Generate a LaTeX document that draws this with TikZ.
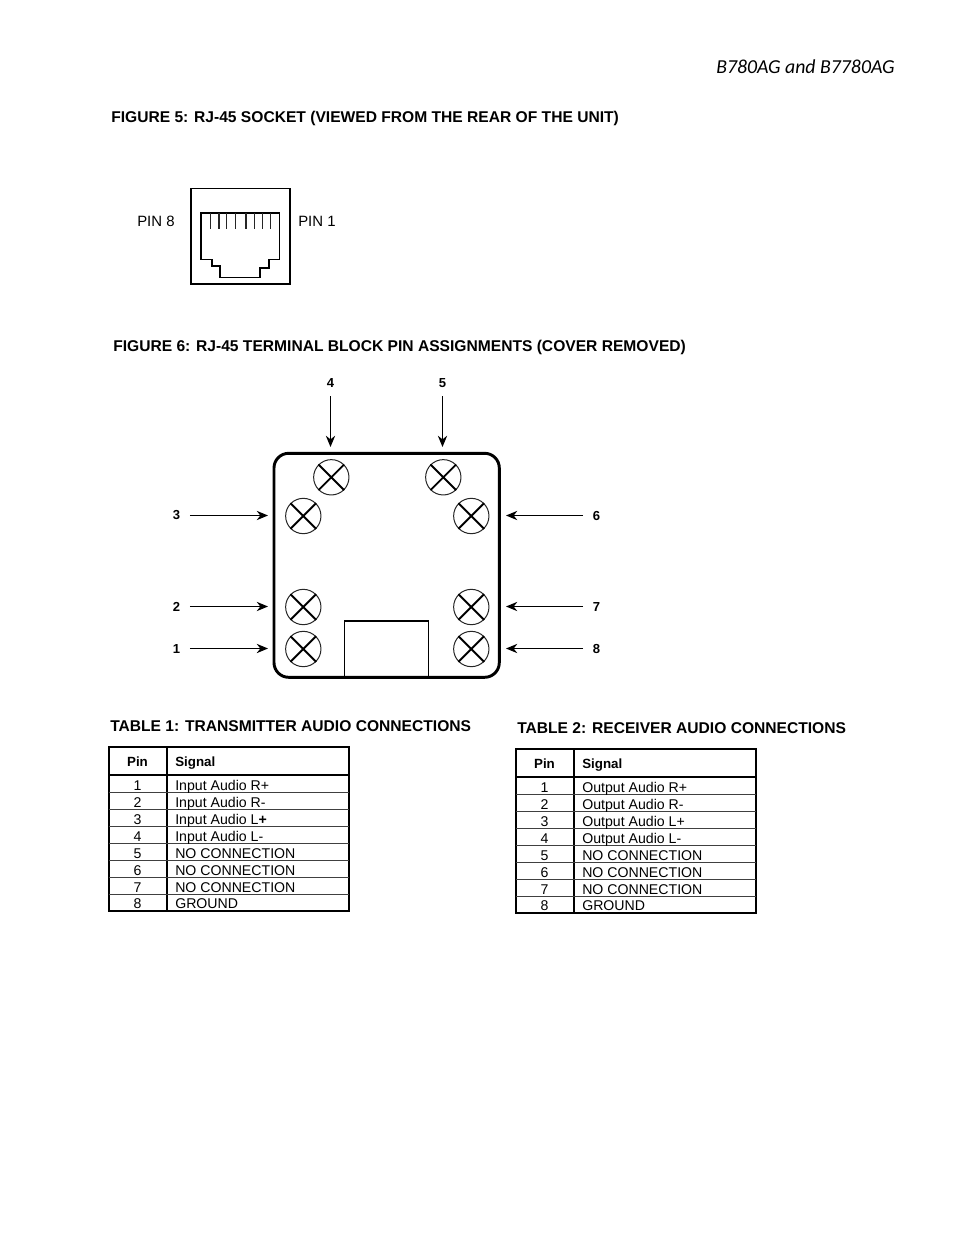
\documentclass[tikz,border=0pt]{standalone}
\usepackage{fontspec}
\setmainfont{Liberation Sans}
\newfontfamily\headfont{Carlito}
\usetikzlibrary{arrows.meta}
\newcommand{\fs}[1]{\fontsize{#1}{#1}\selectfont}
\colorlet{rowline}{black!75}
\tikzset{
  x=0.75pt,y=-0.75pt,
  title/.style={anchor=base west,inner sep=0,font=\fs{11.7}\bfseries},
  plain/.style={anchor=base west,inner sep=0,font=\fs{10.6}},
  pinno/.style={anchor=base,inner sep=0,font=\fs{10.6}},
  headcell/.style={anchor=base west,inner sep=0,font=\fs{10}\bfseries},
  headcentre/.style={anchor=base,inner sep=0,font=\fs{10}\bfseries},
  arrownum/.style={inner sep=0,minimum size=19.5pt,font=\fs{9.8}\bfseries},
  pinarrow/.style={draw=black,line width=0.8pt,-{Stealth[length=8.5pt,width=7pt]}},
  terminal/.style={circle,draw=black!85,line width=0.75pt,minimum size=26.5pt,inner sep=0},
  thick line/.style={draw=black,line width=1.5pt},
  thin line/.style={draw=rowline,line width=0.55pt},
  mid line/.style={draw=black,line width=1.2pt},
  cross line/.style={draw=black,line width=1.4pt},
}
\newcommand{\terminalat}[3]{%
  \node[terminal] (#1) at (#2,#3) {};
  \draw[cross line] (#1.45) -- (#1.225) (#1.135) -- (#1.315);
}
% \sigtable{x left}{y top}{name}{signal-text list}
\newcommand{\sigtable}[4]{%
  \begin{scope}[shift={(#1,#2)}]
    \draw[thick line] (0,0) rectangle (240,164);
    \draw[thick line] (58,0) -- (58,164);
    \draw[thick line] (0,28) -- (240,28);
    \foreach \yy in {45.7,62.7,79.7,96.7,113.7,130.7,147.3}
      \draw[thin line] (0,\yy) -- (240,\yy);
    \node[headcentre] (pinhead#3) at (29,19) {Pin};
    \node[headcell] (sighead#3) at (66.5,19) {Signal};
    \foreach \nn/\yy/\tt in {#4}{
      \node[pinno] (pin#3n\nn) at (29,\yy) {\nn};
      \node[plain] (sig#3n\nn) at (66.5,\yy) {\tt};
    }
  \end{scope}
}
\begin{document}
\begin{tikzpicture}
\useasboundingbox (0,0) rectangle (954,1235);
\fill[white] (0,0) rectangle (954,1235);

\node[anchor=base west,inner sep=0,font=\headfont\fs{14.85}\itshape] (head) at (716,73) {B780AG and B7780AG};

\node[title] (fig5) at (111,122) {FIGURE 5: RJ-45 SOCKET (VIEWED FROM THE REAR OF THE UNIT)};
\node[title] (fig6) at (113,351) {FIGURE 6: RJ-45 TERMINAL BLOCK PIN ASSIGNMENTS (COVER REMOVED)};
\node[title] (tab1) at (110,731) {TABLE 1: TRANSMITTER AUDIO CONNECTIONS};
\node[title] (tab2) at (517,733) {TABLE 2: RECEIVER AUDIO CONNECTIONS};

% socket
\draw[mid line] (191,188.5) rectangle (290,284);
\draw[mid line] (201,212.7) -- (201,259.3) -- (211.7,259.3) -- (211.7,265.7) -- (220,265.7) -- (220,277.3) -- (260,277.3) -- (260,267.7) -- (269,267.7) -- (269,259.3) -- (279.3,259.3) -- (279.3,212.7) -- cycle;
\foreach \xx in {210.7,219,226.7,235.3,246,254.3,262.3,270.7}
  \draw[draw=black!85,line width=0.8pt] (\xx,212.7) -- (\xx,229.3);
\node[plain,font=\fs{11.2}] (pin8) at (137,226) {PIN 8};
\node[plain,font=\fs{11.2}] (pin1) at (298,226) {PIN 1};

% terminal block
\draw[draw=black,line width=2.2pt,rounded corners=11pt] (274,453.3) rectangle (499.3,677.3);
\draw[mid line] (344.3,677.3) -- (344.3,621) -- (428.3,621) -- (428.3,677.3);
\terminalat{t4}{331.3}{477.3}
\terminalat{t5}{443.3}{477.3}
\terminalat{t3}{303.3}{516}
\terminalat{t6}{471.3}{516}
\terminalat{t2}{303.3}{607}
\terminalat{t7}{471.3}{607}
\terminalat{t1}{303.3}{649}
\terminalat{t8}{471.3}{649}

\node[arrownum] (l4) at (330.5,383) {4};
\node[arrownum] (l5) at (442.5,383) {5};
\node[arrownum] (l3) at (176.5,515.5) {3};
\node[arrownum] (l2) at (176.5,606.5) {2};
\node[arrownum] (l1) at (176.5,648.5) {1};
\node[arrownum] (l6) at (596.5,515.5) {6};
\node[arrownum] (l7) at (596.5,606.5) {7};
\node[arrownum] (l8) at (596.5,648.5) {8};
\coordinate (e4) at (330.5,447);
\coordinate (e5) at (442.5,447);
\coordinate (e3) at (268,515.5);
\coordinate (e2) at (268,606.5);
\coordinate (e1) at (268,648.5);
\coordinate (e6) at (506,515.5);
\coordinate (e7) at (506,606.5);
\coordinate (e8) at (506,648.5);
\foreach \n in {1,...,8}
  \draw[pinarrow] (l\n) -- (e\n);

% tables
\sigtable{108.5}{747}{a}{1/43/Input Audio R+,2/60/Input Audio R-,3/77/Input Audio L\textbf{+},4/94/Input Audio L-,5/111/NO CONNECTION,6/128/NO CONNECTION,7/145/NO CONNECTION,8/161/GROUND}
\sigtable{515.5}{749}{b}{1/43/Output Audio R+,2/60/Output Audio R-,3/77/Output Audio L+,4/94/Output Audio L-,5/111/NO CONNECTION,6/128/NO CONNECTION,7/145/NO CONNECTION,8/161/GROUND}
\end{tikzpicture}
\end{document}
